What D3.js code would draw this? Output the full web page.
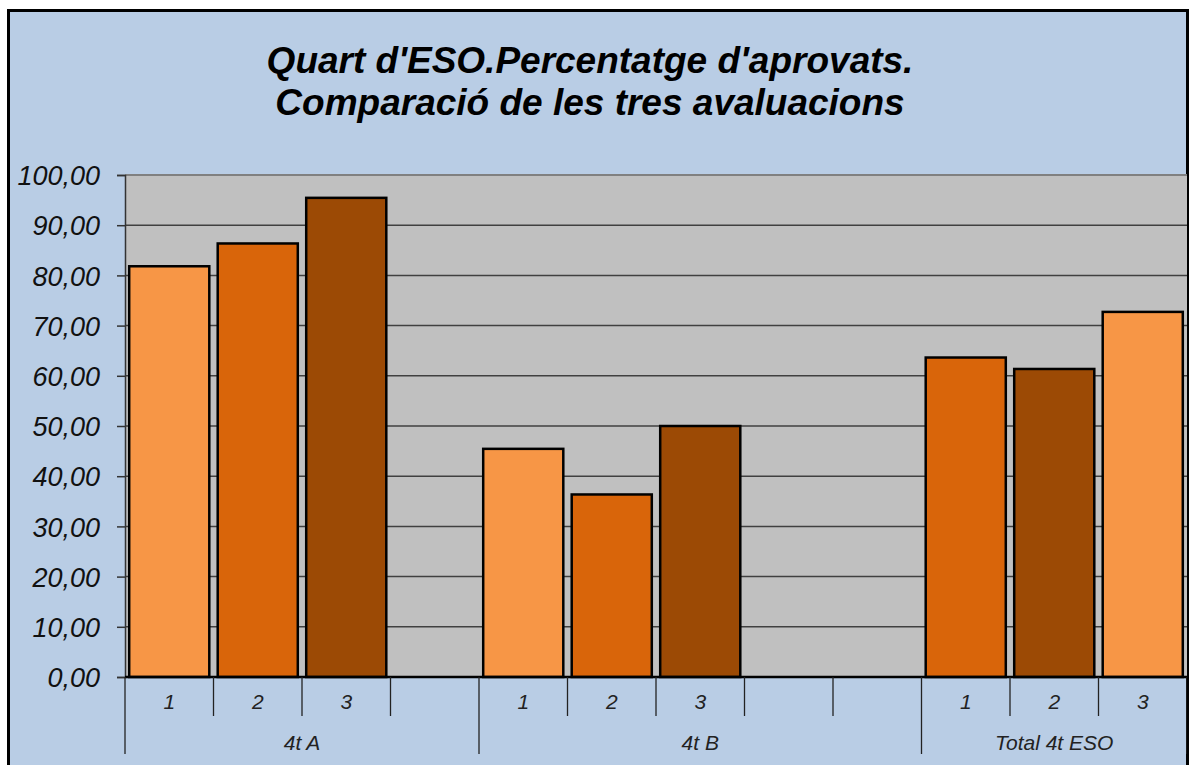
<!DOCTYPE html>
<html>
<head>
<meta charset="utf-8">
<script src="https://cdn.jsdelivr.net/npm/d3@7"></script>
<style>
  body { margin: 0; background: #fff; }
  svg text { font-family: 'Liberation Sans', Arial, sans-serif; font-style: italic; }
</style>
</head>
<body>
<div id="chart"></div>
<script>
// groups along the x axis, each with its slot labels ('' = empty slot)
const groups = ['4t A', '4t B', 'Total 4t ESO']
const groupSlots = [['1', '2', '3', ''], ['1', '2', '3', '', ''], ['1', '2', '3']]
// percentage passed per evaluation (null = empty slot)
const groupValues = [[81.82, 86.36, 95.45, null], [45.45, 36.36, 50.0, null, null], [63.64, 61.36, 72.73]]
// which colour each bar uses (index into palette)
const groupColorIdx = [[0, 1, 2, null], [0, 1, 2, null, null], [1, 2, 0]]
const yTicks = [0, 10, 20, 30, 40, 50, 60, 70, 80, 90, 100]
const titleLines = ["Quart d'ESO.Percentatge d'aprovats.", 'Comparació de les tres avaluacions']

const palette = ['#f79646', '#d9650a', '#9c4a05']

const width = 1189
const height = 765
const plot = { left: 125, top: 175, right: 1187, bottom: 677 }

// flatten into slots
const slots = []
groups.forEach((g, gi) => {
  groupSlots[gi].forEach((s, si) => {
    slots.push({ key: gi + '-' + si, group: gi, label: s, value: groupValues[gi][si], color: groupColorIdx[gi][si] })
  })
})

const svg = d3.select('#chart').append('svg')
  .attr('width', width)
  .attr('height', height)

// chart background + frame
svg.append('rect')
  .attr('x', 8.5).attr('y', 10.5)
  .attr('width', 1179).attr('height', 770)
  .attr('fill', '#b9cde5')
  .attr('stroke', '#000')
  .attr('stroke-width', 3)

const x = d3.scaleBand()
  .domain(slots.map(d => d.key))
  .range([plot.left, plot.right])
  .paddingInner(0.095)
  .paddingOuter(0.0475)

const step = x.step()
const x0 = plot.left

const y = d3.scaleLinear()
  .domain([0, 100])
  .range([plot.bottom, plot.top])

// plot area
svg.append('rect')
  .attr('x', plot.left).attr('y', plot.top)
  .attr('width', plot.right - plot.left).attr('height', plot.bottom - plot.top)
  .attr('fill', '#c0c0c0')

// gridlines
svg.append('g')
  .selectAll('line')
  .data(yTicks.filter(t => t > 0 && t < 100))
  .join('line')
  .attr('x1', plot.left).attr('x2', plot.right)
  .attr('y1', d => y(d)).attr('y2', d => y(d))
  .attr('stroke', '#404040')
  .attr('stroke-width', 1.5)

svg.append('line')
  .attr('x1', plot.left).attr('x2', plot.right)
  .attr('y1', y(100)).attr('y2', y(100))
  .attr('stroke', '#808080')
  .attr('stroke-width', 2)

// bars
svg.append('g')
  .selectAll('rect')
  .data(slots.filter(d => d.value != null))
  .join('rect')
  .attr('x', d => x(d.key))
  .attr('y', d => y(d.value))
  .attr('width', x.bandwidth())
  .attr('height', d => y(0) - y(d.value))
  .attr('fill', d => palette[d.color])
  .attr('stroke', '#000')
  .attr('stroke-width', 2.5)

// y axis
const yAxis = svg.append('g')
  .attr('transform', `translate(${plot.left},0)`)
  .call(d3.axisLeft(y).tickValues(yTicks).tickSize(8).tickPadding(17)
    .tickFormat(d => d3.format('.2f')(d).replace('.', ',')))
yAxis.select('.domain').attr('stroke', '#333').attr('stroke-width', 1.5)
yAxis.selectAll('.tick line').attr('stroke', '#333').attr('stroke-width', 1.5)
yAxis.selectAll('text')
  .attr('font-size', 27)
  .attr('fill', '#111')
  .attr('dy', '0.36em')

// x axis baseline
svg.append('line')
  .attr('x1', plot.left).attr('x2', plot.right)
  .attr('y1', plot.bottom).attr('y2', plot.bottom)
  .attr('stroke', '#000').attr('stroke-width', 2.5)

// slot separators
const xAxis = svg.append('g')
let idx = 0
const groupBounds = []
groups.forEach((g, gi) => {
  groupBounds.push(idx)
  idx += groupSlots[gi].length
})
groupBounds.push(idx)

d3.range(slots.length + 1).forEach(i => {
  const isGroup = groupBounds.includes(i)
  xAxis.append('line')
    .attr('x1', x0 + i * step).attr('x2', x0 + i * step)
    .attr('y1', plot.bottom).attr('y2', isGroup ? 754 : 716)
    .attr('stroke', '#222').attr('stroke-width', 1.3)
})

xAxis.selectAll('text.slot')
  .data(slots)
  .join('text')
  .attr('class', 'slot')
  .attr('x', d => x(d.key) + x.bandwidth() / 2)
  .attr('y', 709)
  .attr('text-anchor', 'middle')
  .attr('font-size', 21)
  .attr('fill', '#222')
  .text(d => d.label)

xAxis.selectAll('text.group')
  .data(groups)
  .join('text')
  .attr('class', 'group')
  .attr('x', (d, i) => x0 + (groupBounds[i] + groupBounds[i + 1]) / 2 * step)
  .attr('y', 750)
  .attr('text-anchor', 'middle')
  .attr('font-size', 21)
  .attr('fill', '#222')
  .text(d => d)

// title
svg.append('g')
  .selectAll('text')
  .data(titleLines)
  .join('text')
  .attr('x', 590)
  .attr('y', (d, i) => 73 + i * 42)
  .attr('text-anchor', 'middle')
  .attr('font-size', 37)
  .attr('font-weight', 'bold')
  .attr('fill', '#000')
  .text(d => d)

// right frame edge over plot
svg.append('line')
  .attr('x1', 1188).attr('x2', 1188)
  .attr('y1', 10).attr('y2', height)
  .attr('stroke', '#000').attr('stroke-width', 2)
</script>
</body>
</html>
